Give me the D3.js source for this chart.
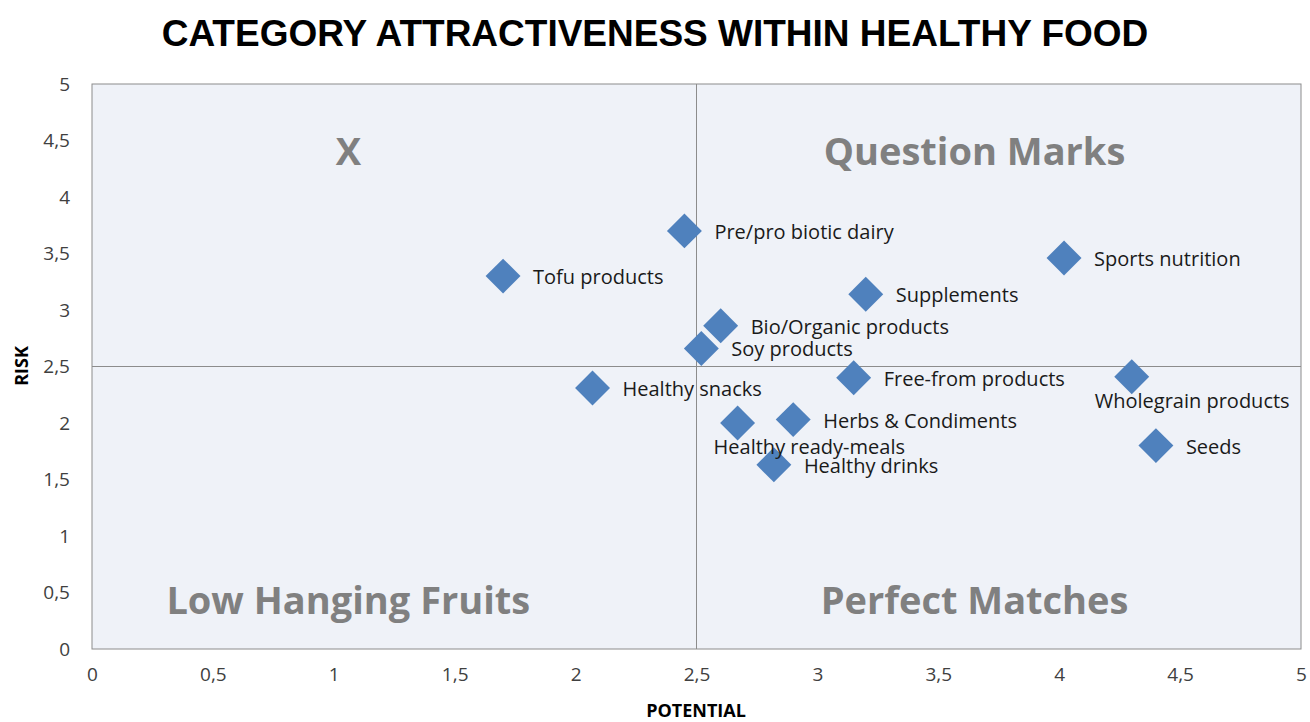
<!DOCTYPE html>
<html>
<head>
<meta charset="utf-8">
<script src="https://cdn.jsdelivr.net/npm/d3@7"></script>
<style>
  body { margin: 0; background: #fff; }
  svg text { font-family: "Open Sans", "Noto Sans", sans-serif; }
</style>
</head>
<body>
<svg id="chart" width="1310" height="722"></svg>
<script>
// Categories and their (potential, risk) scores
const categories = ["Pre/pro biotic dairy", "Tofu products", "Sports nutrition", "Supplements",
  "Bio/Organic products", "Soy products", "Free-from products", "Wholegrain products",
  "Healthy snacks", "Herbs & Condiments", "Healthy ready-meals", "Seeds", "Healthy drinks"];
const potential = [2.45, 1.7, 4.02, 3.2, 2.6, 2.52, 3.15, 4.3, 2.07, 2.9, 2.67, 4.4, 2.82];
const risk = [3.7, 3.3, 3.46, 3.14, 2.86, 2.66, 2.4, 2.41, 2.31, 2.03, 2.0, 1.8, 1.63];

// Axis ticks
const xTicks = [0, 0.5, 1, 1.5, 2, 2.5, 3, 3.5, 4, 4.5, 5];
const yTicks = [0, 0.5, 1, 1.5, 2, 2.5, 3, 3.5, 4, 4.5, 5];

// Quadrant names
const quadrants = [
  { name: "X", x: 1.06, y: 4.4 },
  { name: "Question Marks", x: 3.65, y: 4.4 },
  { name: "Low Hanging Fruits", x: 1.06, y: 0.43 },
  { name: "Perfect Matches", x: 3.65, y: 0.43 }
];

// labels which Excel put under the marker instead of right of it (shift left in px)
const labelsBelow = { "Healthy ready-meals": -24, "Wholegrain products": -37 };

const points = categories.map((c, i) => ({ name: c, x: potential[i], y: risk[i] }));

const svg = d3.select("#chart");
const margin = { left: 92, top: 84, right: 9, bottom: 73 };
const width = 1310 - margin.left - margin.right;
const height = 722 - margin.top - margin.bottom;

const x = d3.scaleLinear().domain([0, 5]).range([0, width]);
const y = d3.scaleLinear().domain([0, 5]).range([height, 0]);
const fmt = d => String(d).replace(".", ",");

// Title
svg.append("text")
  .attr("x", 655).attr("y", 46)
  .attr("text-anchor", "middle")
  .style("font-family", "'Liberation Sans', Arial, sans-serif")
  .style("font-weight", "bold")
  .style("font-size", "37px")
  .text("CATEGORY ATTRACTIVENESS WITHIN HEALTHY FOOD");

const g = svg.append("g").attr("transform", `translate(${margin.left},${margin.top})`);

// plot background
g.append("rect")
  .attr("width", width).attr("height", height)
  .attr("fill", "#eff2f8")
  .attr("stroke", "#8c8c8c").attr("stroke-width", 1);

// Axes (labels only, no tick marks)
const xAxis = g.append("g").attr("transform", `translate(0,${height})`)
  .call(d3.axisBottom(x).tickValues(xTicks).tickFormat(fmt).tickSize(0).tickPadding(22));
const yAxis = g.append("g")
  .call(d3.axisLeft(y).tickValues(yTicks).tickFormat(fmt).tickSize(0).tickPadding(22));
[xAxis, yAxis].forEach(a => {
  a.select(".domain").remove();
  a.selectAll("text").style("font-size", "19px").attr("fill", "#404040")
    .style("font-family", "'Open Sans', sans-serif");
});
xAxis.selectAll("text").attr("dy", "0.55em");

// Quadrant split lines
g.append("line")
  .attr("x1", x(2.5)).attr("x2", x(2.5)).attr("y1", 0).attr("y2", height)
  .attr("stroke", "#8c8c8c");
g.append("line")
  .attr("x1", 0).attr("x2", width).attr("y1", y(2.5)).attr("y2", y(2.5))
  .attr("stroke", "#8c8c8c");

// Quadrant names
g.selectAll(".quad").data(quadrants).join("text")
  .attr("class", "quad")
  .attr("x", d => x(d.x)).attr("y", d => y(d.y))
  .attr("dy", "0.35em")
  .attr("text-anchor", "middle")
  .attr("fill", "#808080")
  .style("font-weight", "bold")
  .style("font-size", "38px")
  .text(d => d.name);

// Markers
const diamond = d3.symbol().type(d3.symbolSquare).size(610);
g.selectAll(".pt").data(points).join("path")
  .attr("class", "pt")
  .attr("d", diamond)
  .attr("transform", d => `translate(${x(d.x)},${y(d.y)}) rotate(45)`)
  .attr("fill", "#4f81bd");

// Point labels
const below = d => d.name in labelsBelow;
g.selectAll(".lbl").data(points).join("text")
  .attr("class", "lbl")
  .attr("x", d => below(d) ? x(d.x) + labelsBelow[d.name] : x(d.x) + 30)
  .attr("y", d => below(d) ? y(d.y) + 24 : y(d.y) + 1)
  .attr("dy", "0.35em")
  .attr("fill", "#1a1a1a")
  .style("font-size", "20px")
  .text(d => d.name);

// Axis titles
svg.append("text")
  .attr("x", 696).attr("y", 717)
  .attr("text-anchor", "middle")
  .style("font-weight", "bold").style("font-size", "18px")
  .text("POTENTIAL");
svg.append("text")
  .attr("transform", "translate(28,366) rotate(-90)")
  .attr("text-anchor", "middle")
  .style("font-weight", "bold").style("font-size", "18px")
  .text("RISK");
</script>
</body>
</html>
